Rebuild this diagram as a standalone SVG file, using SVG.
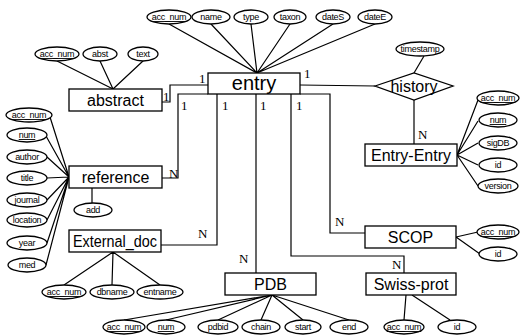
<svg xmlns="http://www.w3.org/2000/svg" width="522" height="335" viewBox="0 0 522 335">
<style>
.ent{fill:#fff;stroke:#000;stroke-width:1.3}
.et{font-family:"Liberation Sans",Arial,sans-serif;font-size:16px;text-anchor:middle;fill:#000}
.big{font-size:20px}
.att ellipse{fill:#fff;stroke:#000;stroke-width:1.3}
.att text{font-family:"Liberation Sans",Arial,sans-serif;font-size:9px;text-anchor:middle;fill:#000;letter-spacing:-0.3px}
.key text{text-decoration:underline}
.ln{fill:none;stroke:#000;stroke-width:1.2}
.card{font-family:"Liberation Serif","Times New Roman",serif;font-size:13px;fill:#000}
</style>
<rect width="522" height="335" fill="#fff"/>
<g id="connectors" class="ln">
<path d="M257 73L169 24M257 73L211 24M257 73L251 24M257 73L290 24M257 73L333 24M257 73L375 24"/>
<path d="M113 89L57 61M113 89L100 61M113 89L143 61"/>
<polyline points="162,102 170,102 170,85 208,85"/>
<polyline points="162,178 178,178 178,94 208,94"/>
<path d="M69 177L50 117M69 177L46 136M69 177L47 157M69 177L47 178M69 177L47 200M69 177L47 220M69 177L47 243M69 177L46 265"/>
<path d="M92 188L92 203"/>
<polyline points="217,94 217,245 161,245"/>
<path d="M113 252L64 285M113 252L112 285M113 252L160 285"/>
<path d="M256 94L256 273"/>
<path d="M272 295L124 320M272 295L166 320M272 295L218 320M272 295L261 320M272 295L303 320M272 295L349 320"/>
<polyline points="291,94 291,256 404,256 404,273"/>
<path d="M406 295L404 320M412 295L450 320"/>
<polyline points="300,94 330,94 330,233 365,233"/>
<path d="M456 237L478 232M456 237L480 254"/>
<path d="M300 85L375 86"/>
<path d="M424 56L414 73"/>
<path d="M414 100L414 144"/>
<path d="M457 155L478 100M457 155L478 121M457 155L478 143M457 155L478 165M457 155L478 186"/>
</g>
<g id="cardinalities" class="card">
<text x="163" y="101">1</text>
<text x="199" y="83">1</text>
<text x="181" y="110">1</text>
<text x="169" y="178">N</text>
<text x="222" y="110">1</text>
<text x="198" y="238">N</text>
<text x="260" y="110">1</text>
<text x="239" y="263">N</text>
<text x="296" y="110">1</text>
<text x="392" y="269">N</text>
<text x="335" y="226">N</text>
<text x="304" y="78">1</text>
<text x="418" y="139">N</text>
</g>
<g id="entry"><rect class="ent" x="208" y="73" width="92" height="21"/><text class="et big" x="254" y="90">entry</text></g>
<g id="abstract"><rect class="ent" x="69" y="89" width="93" height="22"/><text class="et" x="115.5" y="106">abstract</text></g>
<g id="reference"><rect class="ent" x="69" y="166" width="93" height="22"/><text class="et" x="115.5" y="183">reference</text></g>
<g id="external_doc"><rect class="ent" x="69" y="230" width="92" height="22"/><text class="et" x="115" y="247" font-size="15" textLength="84" lengthAdjust="spacingAndGlyphs">External_doc</text></g>
<g id="pdb"><rect class="ent" x="225" y="273" width="91" height="22"/><text class="et" x="270.5" y="290">PDB</text></g>
<g id="swiss-prot"><rect class="ent" x="366" y="273" width="90" height="22"/><text class="et" x="411" y="290">Swiss-prot</text></g>
<g id="scop"><rect class="ent" x="365" y="226" width="91" height="22"/><text class="et" x="410.5" y="243">SCOP</text></g>
<g id="entry-entry"><rect class="ent" x="365" y="144" width="92" height="22"/><text class="et" x="411" y="161">Entry-Entry</text></g>
<g id="history"><polygon class="ent" points="375,86 414,73 453,86 414,100"/><text class="et" x="414" y="92" font-size="18">history</text></g>
<g id="entry-acc_num" class="att key"><ellipse cx="169" cy="17" rx="22" ry="7"/><text x="169" y="20">acc_num</text></g>
<g id="entry-name" class="att"><ellipse cx="211" cy="17" rx="19" ry="7"/><text x="211" y="20">name</text></g>
<g id="entry-type" class="att"><ellipse cx="251" cy="17" rx="17" ry="7"/><text x="251" y="20">type</text></g>
<g id="entry-taxon" class="att"><ellipse cx="290" cy="17" rx="16" ry="7"/><text x="290" y="20">taxon</text></g>
<g id="entry-dateS" class="att"><ellipse cx="333" cy="17" rx="17" ry="7"/><text x="333" y="20">dateS</text></g>
<g id="entry-dateE" class="att"><ellipse cx="375" cy="17" rx="17" ry="7"/><text x="375" y="20">dateE</text></g>
<g id="abstract-acc_num" class="att key"><ellipse cx="57" cy="54" rx="22" ry="7"/><text x="57" y="57">acc_num</text></g>
<g id="abstract-abst" class="att"><ellipse cx="100" cy="54" rx="17" ry="7"/><text x="100" y="57">abst</text></g>
<g id="abstract-text" class="att"><ellipse cx="143" cy="54" rx="15" ry="7"/><text x="143" y="57">text</text></g>
<g id="reference-acc_num" class="att key"><ellipse cx="29" cy="115" rx="23" ry="7"/><text x="29" y="118">acc_num</text></g>
<g id="reference-num" class="att key"><ellipse cx="27" cy="135" rx="20" ry="7"/><text x="27" y="138">num</text></g>
<g id="reference-author" class="att"><ellipse cx="27" cy="157" rx="20" ry="7"/><text x="27" y="160">author</text></g>
<g id="reference-title" class="att"><ellipse cx="27" cy="178" rx="20" ry="7"/><text x="27" y="181">title</text></g>
<g id="reference-journal" class="att"><ellipse cx="27" cy="200" rx="20" ry="7"/><text x="27" y="203">journal</text></g>
<g id="reference-location" class="att"><ellipse cx="27" cy="220" rx="20" ry="7"/><text x="27" y="223">location</text></g>
<g id="reference-year" class="att"><ellipse cx="27" cy="243" rx="20" ry="7"/><text x="27" y="246">year</text></g>
<g id="reference-med" class="att"><ellipse cx="27" cy="265" rx="19" ry="7"/><text x="27" y="268">med</text></g>
<g id="reference-add" class="att"><ellipse cx="93" cy="210" rx="19" ry="7"/><text x="93" y="213">add</text></g>
<g id="external-acc_num" class="att key"><ellipse cx="64" cy="292" rx="22" ry="7"/><text x="64" y="295">acc_num</text></g>
<g id="external-dbname" class="att"><ellipse cx="112" cy="292" rx="22" ry="7"/><text x="112" y="295">dbname</text></g>
<g id="external-entname" class="att"><ellipse cx="160" cy="292" rx="23" ry="7"/><text x="160" y="295">entname</text></g>
<g id="pdb-acc_num" class="att key"><ellipse cx="124" cy="327" rx="21" ry="7"/><text x="124" y="330">acc_num</text></g>
<g id="pdb-num" class="att key"><ellipse cx="166" cy="327" rx="19" ry="7"/><text x="166" y="330">num</text></g>
<g id="pdb-pdbid" class="att"><ellipse cx="218" cy="327" rx="20" ry="7"/><text x="218" y="330">pdbid</text></g>
<g id="pdb-chain" class="att"><ellipse cx="261" cy="327" rx="19" ry="7"/><text x="261" y="330">chain</text></g>
<g id="pdb-start" class="att"><ellipse cx="303" cy="327" rx="18" ry="7"/><text x="303" y="330">start</text></g>
<g id="pdb-end" class="att"><ellipse cx="349" cy="327" rx="19" ry="7"/><text x="349" y="330">end</text></g>
<g id="swiss-acc_num" class="att key"><ellipse cx="404" cy="327" rx="20" ry="7"/><text x="404" y="330">acc_num</text></g>
<g id="swiss-id" class="att"><ellipse cx="457" cy="327" rx="19" ry="7"/><text x="457" y="330">id</text></g>
<g id="scop-acc_num" class="att key"><ellipse cx="498" cy="232" rx="21" ry="7"/><text x="498" y="235">acc_num</text></g>
<g id="scop-id" class="att"><ellipse cx="498" cy="254" rx="19" ry="7"/><text x="498" y="257">id</text></g>
<g id="history-timestamp" class="att"><ellipse cx="420" cy="49" rx="24" ry="7"/><text x="420" y="52">timestamp</text></g>
<g id="ee-acc_num" class="att key"><ellipse cx="498" cy="98" rx="21" ry="7"/><text x="498" y="101">acc_num</text></g>
<g id="ee-num" class="att key"><ellipse cx="498" cy="120" rx="19" ry="7"/><text x="498" y="123">num</text></g>
<g id="ee-sigDB" class="att"><ellipse cx="498" cy="143" rx="19" ry="7"/><text x="498" y="146">sigDB</text></g>
<g id="ee-id" class="att"><ellipse cx="498" cy="165" rx="19" ry="7"/><text x="498" y="168">id</text></g>
<g id="ee-version" class="att"><ellipse cx="498" cy="186" rx="20" ry="7"/><text x="498" y="189">version</text></g>
</svg>
